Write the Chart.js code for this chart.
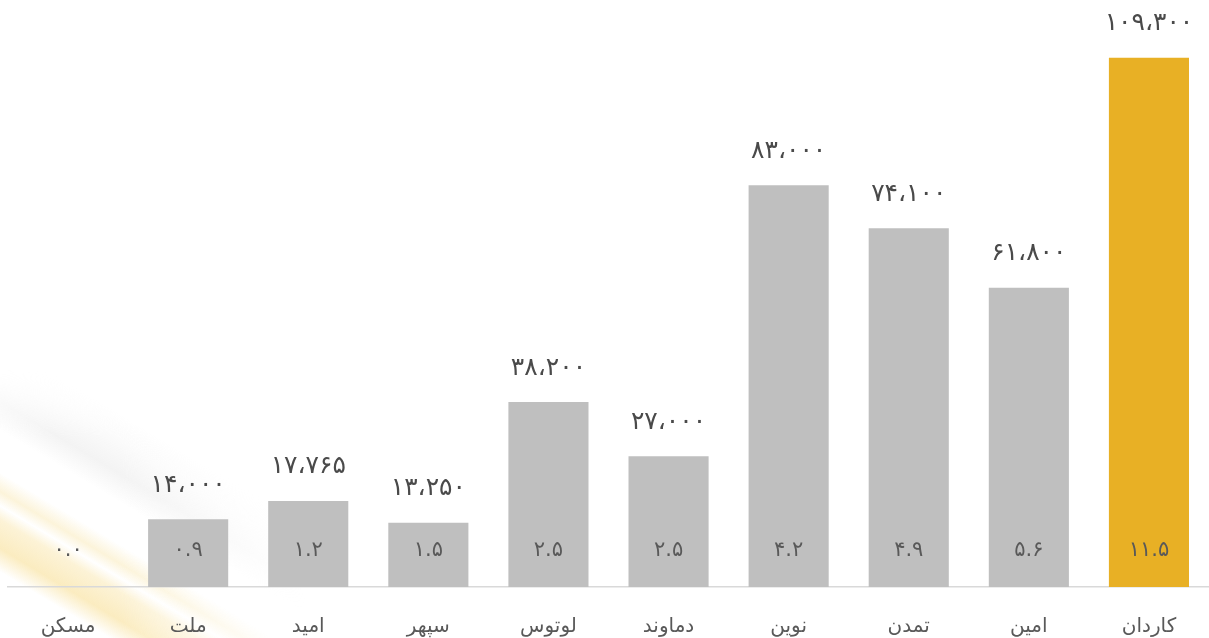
<!DOCTYPE html>
<html>
<head>
<meta charset="utf-8">
<script src="https://cdn.jsdelivr.net/npm/chart.js@4"></script>
<style>
  html, body { margin: 0; padding: 0; background: #ffffff; }
  #wrap { position: relative; width: 1209px; height: 638px; overflow: hidden; }
  #bgo {
    position: absolute; left: 0; top: 370px; width: 340px; height: 268px;
    -webkit-mask-image: linear-gradient(90deg, #000 0%, #000 35%, transparent 90%);
    mask-image: linear-gradient(90deg, #000 0%, #000 35%, transparent 90%);
  }
  #bg {
    width: 100%; height: 100%;
    background: linear-gradient(31deg,
      rgba(255,255,255,0) 0%,
      rgba(248,224,150,0.0) 14%,
      rgba(244,205,90,0.38) 19%,
      rgba(246,214,120,0.3) 25%,
      rgba(255,255,255,0) 28%,
      rgba(246,220,140,0.32) 31%,
      rgba(255,255,255,0) 35%,
      rgba(236,236,236,0.0) 44%,
      rgba(232,232,232,0.5) 50%,
      rgba(240,240,240,0.35) 56%,
      rgba(255,255,255,0) 63%,
      rgba(255,255,255,0) 100%);
    -webkit-mask-image: linear-gradient(180deg, transparent 0%, #000 25%, #000 100%);
    mask-image: linear-gradient(180deg, transparent 0%, #000 25%, #000 100%);
  }
  canvas { position: absolute; left: 0; top: 0; }
</style>
</head>
<body>
<div id="wrap">
  <div id="bgo"><div id="bg"></div></div>
  <canvas id="c" width="1209" height="638"></canvas>
</div>
<script>
const categories = ["مسکن", "ملت", "امید", "سپهر", "لوتوس", "دماوند", "نوین", "تمدن", "امین", "کاردان"];
const values = [0, 14000, 17765, 13250, 38200, 27000, 83000, 74100, 61800, 109300];
const innerLabels = ["۰.۰", "۰.۹", "۱.۲", "۱.۵", "۲.۵", "۲.۵", "۴.۲", "۴.۹", "۵.۶", "۱۱.۵"];
const barColors = ["#BFBFBF", "#BFBFBF", "#BFBFBF", "#BFBFBF", "#BFBFBF", "#BFBFBF", "#BFBFBF", "#BFBFBF", "#BFBFBF", "#E8B025"];
const yMax = 120000;

function toPersianDigits(s) {
  const d = "۰۱۲۳۴۵۶۷۸۹";
  return String(s).replace(/[0-9]/g, c => d[+c]);
}
function fmt(v) {
  const s = String(v).replace(/\B(?=(\d{3})+(?!\d))/g, "،");
  return toPersianDigits(s);
}

const labelPlugin = {
  id: "barLabels",
  afterDatasetsDraw(chart) {
    const ctx = chart.ctx;
    const meta = chart.getDatasetMeta(0);
    const base = chart.scales.y.getPixelForValue(0);
    ctx.save();
    ctx.textAlign = "center";
    ctx.textBaseline = "middle";
    meta.data.forEach((bar, i) => {
      if (values[i] > 0) {
        ctx.fillStyle = "#4a4a4a";
        ctx.font = "25px 'DejaVu Sans'";
        ctx.fillText(fmt(values[i]), bar.x, bar.y - 34);
      }
      ctx.fillStyle = "#595959";
      ctx.font = "21px 'DejaVu Sans'";
      ctx.fillText(innerLabels[i], bar.x, base - 36);
    });
    ctx.restore();
  }
};

new Chart(document.getElementById("c"), {
  type: "bar",
  data: {
    labels: categories,
    datasets: [{
      data: values,
      backgroundColor: barColors,
      borderWidth: 0,
      categoryPercentage: 1.0,
      barPercentage: 0.667
    }]
  },
  options: {
    responsive: false,
    animation: false,
    devicePixelRatio: 1,
    layout: { padding: { left: 8, right: 0, top: 6, bottom: 0 } },
    plugins: { legend: { display: false }, tooltip: { enabled: false } },
    scales: {
      x: {
        grid: { display: false, drawTicks: false },
        border: { display: true, color: "#D9D9D9", width: 1.5 },
        ticks: { color: "#595959", font: { family: "'DejaVu Sans'", size: 20 }, padding: 28, maxRotation: 0 },
        afterFit(scale) { scale.height = 51; }
      },
      y: { display: false, min: 0, max: yMax }
    }
  },
  plugins: [labelPlugin]
});
</script>
</body>
</html>
